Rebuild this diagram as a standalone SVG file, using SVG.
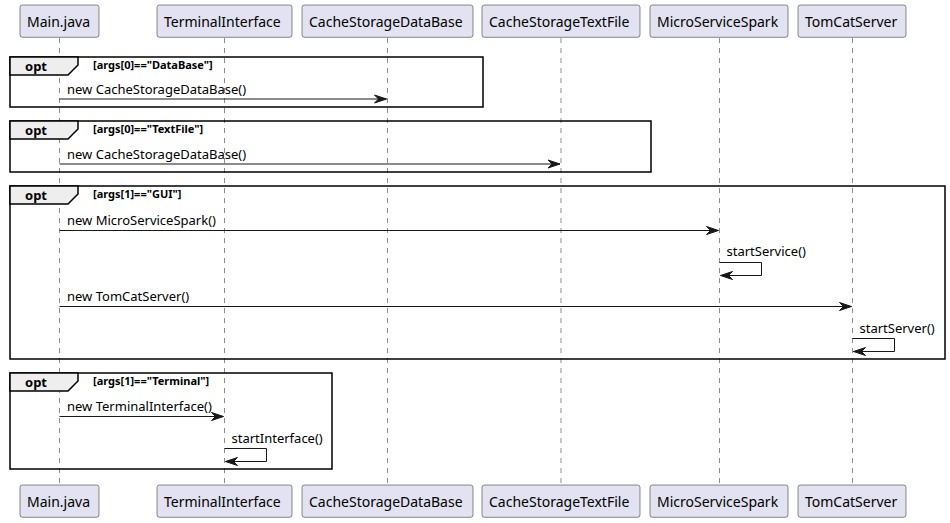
<svg xmlns="http://www.w3.org/2000/svg" width="950" height="523" viewBox="0 0 950 523">
<defs>
<style>
.pbox{fill:#E2E2F0;stroke:#181818;stroke-width:0.5;}
.ptxt{font-family:"Noto Sans","Liberation Sans",sans-serif;font-size:14px;fill:#000000;}
.life{stroke:#181818;stroke-width:0.5;stroke-dasharray:5,5;fill:none;}
.frame{fill:none;stroke:#000000;stroke-width:1.5;}
.fhead{fill:#EEEEEE;stroke:#000000;stroke-width:1.5;}
.optt{font-family:"Noto Sans","Liberation Sans",sans-serif;font-size:13px;font-weight:bold;fill:#000000;}
.guard{font-family:"Noto Sans","Liberation Sans",sans-serif;font-size:11px;font-weight:bold;fill:#000000;}
.msg{stroke:#181818;stroke-width:1;fill:none;marker-end:url(#arr);}
.mtxt{font-family:"Noto Sans","Liberation Sans",sans-serif;font-size:13px;fill:#000000;}
</style>
<marker id="arr" markerUnits="userSpaceOnUse" markerWidth="14" markerHeight="10" refX="12" refY="4" orient="auto" overflow="visible">
<path d="M0,0 L12,4 L0,8 L4,4 Z" fill="#181818" stroke="#181818" stroke-width="1"/>
</marker>
</defs>
<rect width="950" height="523" fill="#FFFFFF"/>
<g id="lifelines">
<line class="life" x1="59.5" y1="38" x2="59.5" y2="485"/>
<line class="life" x1="224.5" y1="38" x2="224.5" y2="485"/>
<line class="life" x1="387.5" y1="38" x2="387.5" y2="485"/>
<line class="life" x1="561" y1="38" x2="561" y2="485"/>
<line class="life" x1="719.5" y1="38" x2="719.5" y2="485"/>
<line class="life" x1="852.5" y1="38" x2="852.5" y2="485"/>
</g>
<g id="fragments">
<g id="opt1">
<rect class="frame" x="10" y="57" width="473" height="50"/>
<polygon class="fhead" points="10,57 78,57 78,65 68,75 10,75"/>
<text class="optt" x="25" y="70.5">opt</text>
<text class="guard" x="93" y="69">[args[0]=="DataBase"]</text>
</g>
<g id="opt2">
<rect class="frame" x="10" y="121" width="641" height="51"/>
<polygon class="fhead" points="10,121 78,121 78,129 68,139 10,139"/>
<text class="optt" x="25" y="134.5">opt</text>
<text class="guard" x="93" y="133">[args[0]=="TextFile"]</text>
</g>
<g id="opt3">
<rect class="frame" x="10" y="186" width="935" height="173"/>
<polygon class="fhead" points="10,186 78,186 78,194 68,204 10,204"/>
<text class="optt" x="25" y="199.5">opt</text>
<text class="guard" x="93" y="198">[args[1]=="GUI"]</text>
</g>
<g id="opt4">
<rect class="frame" x="10" y="373" width="322" height="96"/>
<polygon class="fhead" points="10,373 78,373 78,381 68,391 10,391"/>
<text class="optt" x="25" y="386.5">opt</text>
<text class="guard" x="93" y="385">[args[1]=="Terminal"]</text>
</g>
</g>
<g id="connectors">
<line class="msg" x1="59.5" y1="99" x2="386.5" y2="99"/>
<text class="mtxt" x="67" y="94">new CacheStorageDataBase()</text>
<line class="msg" x1="59.5" y1="164" x2="560" y2="164"/>
<text class="mtxt" x="67" y="159">new CacheStorageDataBase()</text>
<line class="msg" x1="59.5" y1="230.5" x2="718.5" y2="230.5"/>
<text class="mtxt" x="67" y="225">new MicroServiceSpark()</text>
<polyline class="msg" points="719.5,262.5 761.5,262.5 761.5,275.5 720.5,275.5"/>
<text class="mtxt" x="726.5" y="256">startService()</text>
<line class="msg" x1="59.5" y1="306.5" x2="851.5" y2="306.5"/>
<text class="mtxt" x="67" y="301">new TomCatServer()</text>
<polyline class="msg" points="852.5,338.5 894.5,338.5 894.5,351.5 853.5,351.5"/>
<text class="mtxt" x="859.5" y="333">startServer()</text>
<line class="msg" x1="59.5" y1="416.5" x2="223.5" y2="416.5"/>
<text class="mtxt" x="67" y="411">new TerminalInterface()</text>
<polyline class="msg" points="224.5,448.5 266.5,448.5 266.5,461.5 225.5,461.5"/>
<text class="mtxt" x="231.5" y="443">startInterface()</text>
</g>
<g id="p-main">
<rect class="pbox" x="20" y="5" width="79" height="32.3" rx="2.5"/>
<text class="ptxt" x="27" y="27">Main.java</text>
<rect class="pbox" x="20" y="485" width="79" height="32.3" rx="2.5"/>
<text class="ptxt" x="27" y="507">Main.java</text>
</g>
<g id="p-terminal">
<rect class="pbox" x="157" y="5" width="135" height="32.3" rx="2.5"/>
<text class="ptxt" x="164" y="27">TerminalInterface</text>
<rect class="pbox" x="157" y="485" width="135" height="32.3" rx="2.5"/>
<text class="ptxt" x="164" y="507">TerminalInterface</text>
</g>
<g id="p-cachedb">
<rect class="pbox" x="302" y="5" width="171" height="32.3" rx="2.5"/>
<text class="ptxt" x="309" y="27">CacheStorageDataBase</text>
<rect class="pbox" x="302" y="485" width="171" height="32.3" rx="2.5"/>
<text class="ptxt" x="309" y="507">CacheStorageDataBase</text>
</g>
<g id="p-cachetf">
<rect class="pbox" x="482" y="5" width="158" height="32.3" rx="2.5"/>
<text class="ptxt" x="489" y="27">CacheStorageTextFile</text>
<rect class="pbox" x="482" y="485" width="158" height="32.3" rx="2.5"/>
<text class="ptxt" x="489" y="507">CacheStorageTextFile</text>
</g>
<g id="p-spark">
<rect class="pbox" x="650" y="5" width="138" height="32.3" rx="2.5"/>
<text class="ptxt" x="657" y="27">MicroServiceSpark</text>
<rect class="pbox" x="650" y="485" width="138" height="32.3" rx="2.5"/>
<text class="ptxt" x="657" y="507">MicroServiceSpark</text>
</g>
<g id="p-tomcat">
<rect class="pbox" x="798" y="5" width="108" height="32.3" rx="2.5"/>
<text class="ptxt" x="805" y="27">TomCatServer</text>
<rect class="pbox" x="798" y="485" width="108" height="32.3" rx="2.5"/>
<text class="ptxt" x="805" y="507">TomCatServer</text>
</g>
</svg>
